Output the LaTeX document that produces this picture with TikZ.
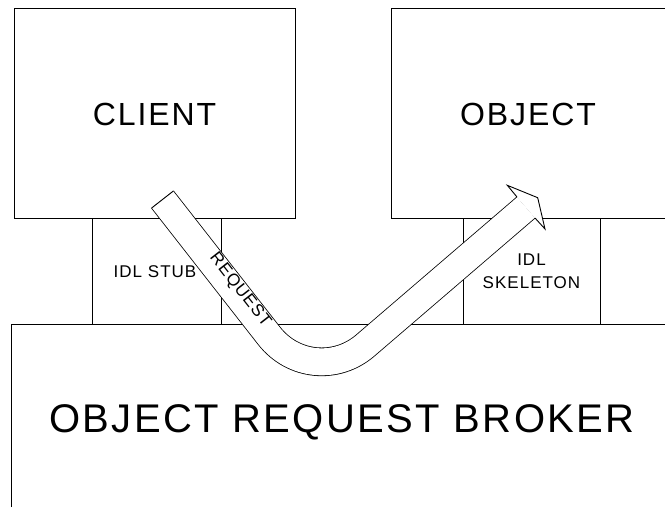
\documentclass[tikz,border=0pt]{standalone}
\usepackage{fontspec}
\setmainfont{Liberation Sans}
\usetikzlibrary{calc}
\newcommand{\txtsize}[1]{\fontsize{#1}{#1}\selectfont\addfontfeature{LetterSpace=6}}
\begin{document}
\begin{tikzpicture}[x=1pt,y=-1pt,line width=0.9pt,
  boxnode/.style={draw,inner sep=0pt,line width=0.9pt},
  bigtext/.style={font=\txtsize{32},anchor=base},
  hugetext/.style={font=\txtsize{40},anchor=base},
  smalltext/.style={font=\txtsize{17},anchor=base},
  band/.style={line cap=butt,rounded corners=70pt}]
\useasboundingbox (0,0) rectangle (665,507);

% object request broker: open frame along the left and top
\coordinate (orbBL) at (11,507);
\coordinate (orbTL) at (11,324);
\coordinate (orbTR) at (665,324);
\draw (orbBL) -- (orbTL) -- (orbTR);
\node[hugetext] (orb) at (342,432) {OBJECT REQUEST BROKER};

% client box
\node[boxnode,minimum width=281pt,minimum height=210pt] (client) at (154.5,113) {};
\node[bigtext] (clienttxt) at (154.5,125) {CLIENT};

% object box, open to the right
\coordinate (objTR) at (665,8);
\coordinate (objTL) at (391,8);
\coordinate (objBL) at (391,218);
\coordinate (objBR) at (665,218);
\draw (objTR) -- (objTL) -- (objBL) -- (objBR);
\node[bigtext] (objtxt) at (528,125) {OBJECT};

% IDL stub and skeleton
\node[boxnode,minimum width=129pt,minimum height=106pt] (stub) at (156.5,271) {};
\node[smalltext] (stubtxt) at (155,277) {IDL STUB};
\node[boxnode,minimum width=137pt,minimum height=106pt] (skel) at (531.5,271) {};
\node[smalltext] (skeltxt1) at (531.5,265) {IDL};
\node[smalltext] (skeltxt2) at (531.5,288) {SKELETON};

% request band from client down through the ORB and up into the object
\coordinate (tail) at (162.5,199.5);
\coordinate (bend) at (312.3,391);
\coordinate (head) at (526,207.5);
\draw[band,line width=28.6pt] (tail) -- (bend) -- (head);
\draw[band,white,line width=27pt] (tail) -- (bend) -- (head);
\draw ($(tail)!13.9pt!90:(bend)$) -- ($(tail)!13.9pt!-90:(bend)$);

% arrow head
\coordinate (hdUp) at (516.95,196.95);
\coordinate (barbUp) at (507.3,185.3);
\coordinate (tip) at (537.7,197.7);
\coordinate (barbLo) at (545,229);
\coordinate (hdLo) at (535.05,218.05);
\fill[white] (hdUp) -- (barbUp) -- (tip) -- (barbLo) -- (hdLo) -- cycle;
\draw (hdUp) -- (barbUp) -- (tip) -- (barbLo) -- (hdLo);

\node[font=\txtsize{17},rotate=-52] (req) at (240,290) {REQUEST};
\end{tikzpicture}
\end{document}
